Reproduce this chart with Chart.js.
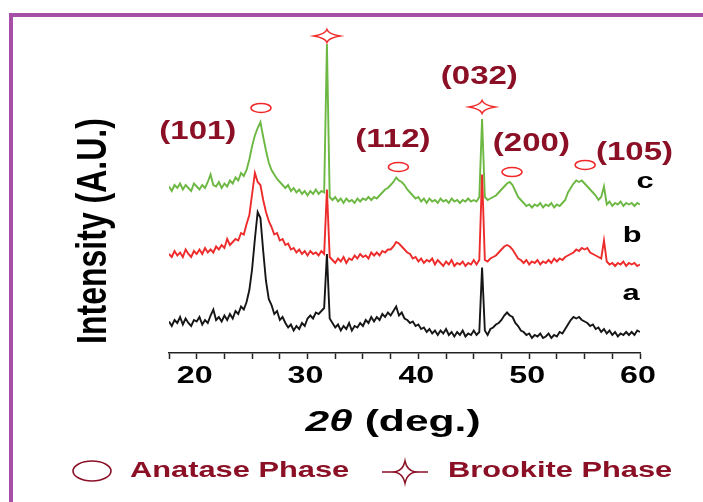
<!DOCTYPE html>
<html>
<head>
<meta charset="utf-8">
<script src="https://cdn.jsdelivr.net/npm/chart.js@4.4.1/dist/chart.umd.min.js"></script>
<style>
  html, body { margin: 0; padding: 0; background: #fff; }
  #wrap { width: 703px; height: 502px; }
</style>
</head>
<body>
<div id="wrap"><canvas id="xrd" width="703" height="502"></canvas></div>
<script>
// scan: 2theta from 17.5 to 60 deg, 0.25 deg per point
const scanStart = 17.5;
const scanStep = 0.25;

// sample a (black), one row per degree
const sampleA = [
  10.5, 9,
  11, 10, 12, 9.5,      // 18
  11.5, 10, 9, 11,      // 19
  10.5, 12, 9.5, 11,    // 20
  10, 12.5, 14.5, 11,   // 21
  12, 10.5, 12.5, 11,   // 22
  13, 11.5, 14, 13,     // 23
  15.5, 14.5, 17, 21,   // 24
  28, 38, 47, 45,       // 25
  34, 24, 18, 16,       // 26
  13, 14, 11, 12,       // 27
  10, 8.5, 9.5, 7.5,    // 28
  9, 8, 10, 9,          // 29
  11.5, 12.5, 11.5, 13.5, // 30
  13, 14, 15, 33,       // 31
  11.5, 10, 8.5, 9.5,   // 32
  7.5, 9, 8, 10,        // 33
  7.5, 9, 8.5, 10,      // 34
  9, 11, 10, 12,        // 35
  10.5, 12, 11, 13,     // 36
  12, 13.5, 12.5, 14,   // 37
  15.5, 12.5, 13.5, 11.5, // 38
  11, 10, 10.5, 9,      // 39
  9.5, 8, 8.5, 7,       // 40
  8, 6.5, 7.5, 6,       // 41
  7.5, 6.5, 8, 6,       // 42
  7, 5.5, 7, 6,         // 43
  7.5, 5.5, 6.5, 6,     // 44
  7.5, 6, 7, 28.5,      // 45
  7.5, 6, 8, 8.5,       // 46
  9.5, 10, 11, 12.5,    // 47
  13.5, 12.5, 12, 10,   // 48
  9, 7.5, 7, 6,         // 49
  6.5, 5, 6, 5.5,       // 50
  6.5, 5, 5.5, 6.5,     // 51
  5, 6, 5.5, 7,         // 52
  6.5, 8, 9.5, 11,      // 53
  12, 11.5, 12, 11,     // 54
  10.5, 10, 9, 9.5,     // 55
  8, 8.5, 7, 8,         // 56
  6.5, 7.5, 6, 7,       // 57
  5.5, 6.5, 6, 7,       // 58
  6, 7, 6, 7.5,         // 59
  7
];

// sample b (red)
const sampleB = [
  11, 10,
  12, 10.5, 11.5, 10,   // 18
  12.5, 11, 10, 12,     // 19
  11, 12.5, 11, 13,     // 20
  11.5, 12.5, 11.5, 13.5, // 21
  12.5, 14, 13, 16,     // 22
  14, 15, 16, 15.5,     // 23
  18, 17.5, 21, 24,     // 24
  31, 38, 35, 34,       // 25
  29, 25, 22, 20,       // 26
  17.5, 18, 15.5, 16,   // 27
  14, 14.5, 12.5, 13,   // 28
  11.5, 12.5, 11, 12,   // 29
  10.5, 12, 11, 11.5,   // 30
  10.5, 12, 11, 32.5,   // 31
  10, 9, 8, 9.5,        // 32
  8.5, 10, 8, 9.5,      // 33
  9, 10.5, 9.5, 11,     // 34
  10, 10.5, 9.5, 11.5,  // 35
  10.5, 11.5, 10.5, 12, // 36
  11.5, 12.5, 12.5, 13.5, // 37
  15, 14.5, 13.5, 12.5, // 38
  11.5, 11, 9.5, 10,    // 39
  8.5, 9.5, 8, 9,       // 40
  8.5, 9.5, 7.5, 9,     // 41
  8, 7, 8.5, 7.5,       // 42
  9, 7, 8, 7.5,         // 43
  8.5, 7, 8, 7.5,       // 44
  9, 7.5, 9, 37.5,      // 45
  9, 8.5, 9.5, 10,      // 46
  10.5, 11.5, 12.5, 13.5, // 47
  14, 13.5, 12.5, 11,   // 48
  9.5, 9, 8, 9,         // 49
  7.5, 8.5, 8, 9,       // 50
  7.5, 8.5, 8, 9,       // 51
  8, 9.5, 8.5, 9.5,     // 52
  9, 10, 10.5, 11,      // 53
  11.5, 12.5, 12, 13,   // 54
  12.5, 13, 11.5, 11,   // 55
  10.5, 10, 9.5, 15.5,  // 56
  8.5, 7.5, 8, 7,       // 57
  8, 7.5, 8.5, 7,       // 58
  8, 7.5, 8, 7,         // 59
  7.5
];

// sample c (green)
const sampleC = [
  11.5, 10,
  12, 11, 12.5, 10.5,   // 18
  12, 11, 10, 12.5,     // 19
  11.5, 10.5, 12, 11,   // 20
  13, 15.5, 12, 11.5,   // 21
  13, 11, 12.5, 11.5,   // 22
  13.5, 12.5, 14.5, 13.5, // 23
  16, 15, 17, 20.5,     // 24
  25, 28.5, 31, 33,     // 25
  28, 23.5, 19.5, 17,   // 26
  15.5, 14, 13, 12,     // 27
  11, 12, 10, 11,       // 28
  9.5, 10.5, 9, 10,     // 29
  8.5, 10, 9, 10.5,     // 30
  9, 10, 9.5, 59,       // 31
  8, 7, 8, 6.5,         // 32
  7.5, 6, 7.5, 6.5,     // 33
  7, 6, 7.5, 6.5,       // 34
  7.5, 7, 8, 7,         // 35
  8, 7.5, 8.5, 9.5,     // 36
  10.5, 11, 12, 13,     // 37
  14.5, 13.5, 13, 12,   // 38
  10.5, 9.5, 8.5, 7.5,  // 39
  8, 6.5, 7.5, 6,       // 40
  7.5, 6.5, 7, 6,       // 41
  7.5, 6.5, 7, 6,       // 42
  7.5, 6.5, 7, 6,       // 43
  7, 6.5, 7.5, 6.5,     // 44
  7, 6.5, 8, 34,        // 45
  8, 7, 7.5, 8,         // 46
  8.5, 9.5, 10.5, 11.5, // 47
  12.5, 13, 12, 10,     // 48
  8, 7, 6, 5,           // 49
  5.5, 4.5, 5.5, 5,     // 50
  6, 4.5, 5.5, 5,       // 51
  6, 4.5, 5.5, 5,       // 52
  6, 7, 9.5, 11,        // 53
  12.5, 13.5, 13, 13.5, // 54
  12.5, 11.5, 10.5, 9.5, // 55
  8.5, 7, 8, 11.5,      // 56
  5.5, 6.5, 5, 6,       // 57
  5.5, 6.5, 5, 6,       // 58
  5.5, 6, 5, 6,         // 59
  5.5
];

const sampleNames = ['a', 'b', 'c'];
const xTickLabels = [20, 30, 40, 50, 60];

// peak positions (2theta) marked in the plot
const anataseAt = [25.8, 38.2, 48.45, 55.05];
const brookiteAt = [31.75, 45.75];
const planes = ['(101)', '(112)', '(032)', '(200)', '(105)'];

// ---- drawing setup ----
const twoTheta = sampleA.map((v, i) => scanStart + i * scanStep);
const shift = [0, 22, 44];           // vertical stacking of the patterns
const colors = ['#161616', '#ee2b2b', '#6cb843'];

const pts = (arr, k) => arr.map((v, i) => ({ x: twoTheta[i], y: v + shift[k] }));

// where the text bits go, in axis units (2theta, intensity)
const planePos = [[20.1, 73.5], [37.7, 71], [45.5, 92], [50.2, 69.7], [59.5, 66.7]];
const anataseY = [81.7, 62, 60.3, 62.7];
const brookiteY = [105.7, 82];
const namePos = [[59.2, 19.7], [59.3, 39], [60.45, 57]];

const MAROON = '#8b1026';

function wideText(ctx, str, px, py, font, color, sx, align) {
  ctx.save();
  ctx.font = font;
  ctx.fillStyle = color;
  ctx.textBaseline = 'middle';
  ctx.textAlign = 'left';
  const w = ctx.measureText(str).width * sx;
  const left = align === 'left' ? px : px - w / 2;
  ctx.translate(left, py);
  ctx.scale(sx, 1);
  ctx.fillText(str, 0, 0);
  ctx.restore();
  return w;
}

function ellipse(ctx, cx, cy, rx, ry, color, lw) {
  ctx.save();
  ctx.strokeStyle = color;
  ctx.lineWidth = lw;
  ctx.beginPath();
  ctx.ellipse(cx, cy, rx, ry, 0, 0, Math.PI * 2);
  ctx.stroke();
  ctx.restore();
}

function star(ctx, cx, cy, rx, ry, color, lw) {
  const k = 1.8;
  ctx.save();
  ctx.strokeStyle = color;
  ctx.lineWidth = lw;
  ctx.beginPath();
  ctx.moveTo(cx + rx, cy);
  ctx.quadraticCurveTo(cx + k, cy - k, cx, cy - ry);
  ctx.quadraticCurveTo(cx - k, cy - k, cx - rx, cy);
  ctx.quadraticCurveTo(cx - k, cy + k, cx, cy + ry);
  ctx.quadraticCurveTo(cx + k, cy + k, cx + rx, cy);
  ctx.closePath();
  ctx.stroke();
  ctx.restore();
}

const decor = {
  id: 'decor',
  beforeDraw(chart) {
    const ctx = chart.ctx;
    ctx.save();
    ctx.fillStyle = '#fff';
    ctx.fillRect(0, 0, chart.width, chart.height);
    ctx.fillStyle = '#a64fa6';
    ctx.fillRect(9, 13, chart.width, 4);
    ctx.fillRect(9, 13, 4, chart.height);
    ctx.restore();
  },
  afterDraw(chart) {
    const ctx = chart.ctx;
    const { x, y } = chart.scales;

    // tick labels
    xTickLabels.forEach(v => {
      wideText(ctx, String(v), x.getPixelForValue(v) - 2, 377, 'bold 23px Arial', '#000', 1.4);
    });

    // x title: 2θ (deg.)
    ctx.save();
    ctx.font = 'italic bold 30px Arial';
    const w1 = ctx.measureText('2\u03B8 ').width * 1.42;
    ctx.font = 'bold 30px Arial';
    const w2 = ctx.measureText('(deg.)').width * 1.42;
    ctx.restore();
    const tx = 393 - (w1 + w2) / 2;
    wideText(ctx, '2\u03B8 ', tx, 423, 'italic bold 30px Arial', '#000', 1.42, 'left');
    wideText(ctx, '(deg.)', tx + w1, 423, 'bold 30px Arial', '#000', 1.42, 'left');

    // y title
    ctx.save();
    ctx.translate(95, 231);
    ctx.scale(1.3, 1);
    ctx.rotate(-Math.PI / 2);
    ctx.font = 'bold 32px Arial';
    ctx.fillStyle = '#000';
    ctx.textAlign = 'center';
    ctx.textBaseline = 'middle';
    ctx.fillText('Intensity (A.U.)', 0, 0);
    ctx.restore();

    // plane labels
    planes.forEach((p, i) => {
      wideText(ctx, p, x.getPixelForValue(planePos[i][0]), y.getPixelForValue(planePos[i][1]),
        'bold 25px Arial', MAROON, 1.32);
    });

    // phase markers
    anataseAt.forEach((t, i) => {
      ellipse(ctx, x.getPixelForValue(t), y.getPixelForValue(anataseY[i]), 10, 4.5, '#f02828', 1.5);
    });
    brookiteAt.forEach((t, i) => {
      star(ctx, x.getPixelForValue(t), y.getPixelForValue(brookiteY[i]), 13, 6.5, '#f02828', 1.5);
    });

    // sample names
    sampleNames.forEach((n, i) => {
      wideText(ctx, n, x.getPixelForValue(namePos[i][0]), y.getPixelForValue(namePos[i][1]),
        'bold 22px Arial', '#000', 1.4);
    });

    // legend
    ellipse(ctx, 92, 471, 19, 10, MAROON, 1.6);
    wideText(ctx, 'Anatase Phase', 130, 471, 'bold 22px Arial', MAROON, 1.4, 'left');
    ctx.save();
    ctx.strokeStyle = MAROON;
    ctx.lineWidth = 1.5;
    ctx.beginPath();
    ctx.moveTo(382, 472); ctx.lineTo(396, 472);
    ctx.moveTo(414, 472); ctx.lineTo(428, 472);
    ctx.stroke();
    ctx.restore();
    star(ctx, 405, 472, 10, 11, MAROON, 1.5);
    wideText(ctx, 'Brookite Phase', 448, 471, 'bold 22px Arial', MAROON, 1.4, 'left');
  }
};

new Chart(document.getElementById('xrd'), {
  type: 'line',
  data: {
    datasets: [sampleA, sampleB, sampleC].map((arr, k) => ({
      label: sampleNames[k],
      data: pts(arr, k),
      borderColor: colors[k],
      borderWidth: 1.9,
      pointRadius: 0,
      tension: 0,
      fill: false
    }))
  },
  options: {
    responsive: false,
    animation: false,
    devicePixelRatio: 1,
    layout: { padding: { left: 169, right: 63, top: 38, bottom: 143 } },
    plugins: { legend: { display: false }, tooltip: { enabled: false } },
    scales: {
      x: {
        type: 'linear',
        min: 17.5,
        max: 60,
        ticks: { stepSize: 2.5, display: false },
        grid: { display: true, drawOnChartArea: false, drawTicks: true, tickLength: 6, tickColor: '#222', tickWidth: 1.5 },
        border: { display: true, color: '#222', width: 1.5 }
      },
      y: { display: false, min: 0, max: 105 }
    }
  },
  plugins: [decor]
});
</script>
</body>
</html>
